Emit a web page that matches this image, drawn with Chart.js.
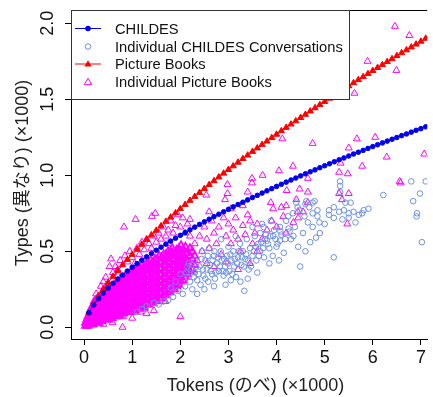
<!DOCTYPE html>
<html>
<head>
<meta charset="utf-8">
<title>Types vs Tokens</title>
<script src="https://cdn.jsdelivr.net/npm/chart.js@4.4.0/dist/chart.umd.min.js"></script>
<style>
  html, body { margin: 0; padding: 0; background: #fff; }
  #wrap { width: 433px; height: 397px; }
</style>
</head>
<body>
<div id="wrap"><canvas id="chart" width="433" height="397"></canvas></div>
<script>
// ==================
//  DATOS
// ==================
const xTicks = [0, 1, 2, 3, 4, 5, 6, 7];
const yTicks = [0, 0.5, 1, 1.5, 2];
const yTickLabels = ["0.0", "0.5", "1.0", "1.5", "2.0"];
const xTitle = "Tokens (のべ) (×1000)";
const yTitle = "Types (異なり) (×1000)";
const seriesNames = ["CHILDES", "Individual CHILDES Conversations", "Picture Books", "Individual Picture Books"];

// curvas acumuladas (x1000 tokens)
const curveTokens = [
  0.1, 0.2, 0.3, 0.4, 0.5, 0.6, 0.7, 0.8, 0.9, 1.0,
  1.1, 1.2, 1.3, 1.4, 1.5, 1.6, 1.7, 1.8, 1.9, 2.0,
  2.1, 2.2, 2.3, 2.4, 2.5, 2.6, 2.7, 2.8, 2.9, 3.0,
  3.1, 3.2, 3.3, 3.4, 3.5, 3.6, 3.7, 3.8, 3.9, 4.0,
  4.1, 4.2, 4.3, 4.4, 4.5, 4.6, 4.7, 4.8, 4.9, 5.0,
  5.1, 5.2, 5.3, 5.4, 5.5, 5.6, 5.7, 5.8, 5.9, 6.0,
  6.1, 6.2, 6.3, 6.4, 6.5, 6.6, 6.7, 6.8, 6.9, 7.0,
  7.1, 7.2
];
const childesTypes = [
  0.096, 0.147, 0.188, 0.225, 0.258, 0.289, 0.317, 0.344, 0.370, 0.395,
  0.419, 0.442, 0.464, 0.486, 0.507, 0.527, 0.547, 0.567, 0.586, 0.605,
  0.623, 0.641, 0.659, 0.677, 0.694, 0.711, 0.728, 0.744, 0.760, 0.776,
  0.792, 0.808, 0.823, 0.838, 0.854, 0.868, 0.883, 0.898, 0.912, 0.927,
  0.941, 0.955, 0.969, 0.982, 0.996, 1.010, 1.023, 1.036, 1.050, 1.063,
  1.076, 1.089, 1.102, 1.114, 1.127, 1.140, 1.152, 1.164, 1.177, 1.189,
  1.201, 1.213, 1.225, 1.237, 1.249, 1.261, 1.272, 1.284, 1.296, 1.307,
  1.319, 1.330
];
const booksTypes = [
  0.095, 0.155, 0.205, 0.252, 0.294, 0.334, 0.373, 0.410, 0.445, 0.479,
  0.512, 0.545, 0.576, 0.607, 0.637, 0.667, 0.696, 0.724, 0.752, 0.780,
  0.807, 0.834, 0.860, 0.886, 0.912, 0.938, 0.963, 0.988, 1.013, 1.037,
  1.061, 1.085, 1.109, 1.132, 1.156, 1.179, 1.202, 1.224, 1.247, 1.269,
  1.292, 1.314, 1.336, 1.357, 1.379, 1.400, 1.422, 1.443, 1.464, 1.485,
  1.506, 1.527, 1.547, 1.567, 1.588, 1.608, 1.628, 1.648, 1.668, 1.688,
  1.708, 1.727, 1.747, 1.766, 1.786, 1.805, 1.824, 1.843, 1.862, 1.881,
  1.900, 1.919
];

// conversaciones individuales [tokens, types]
const childesConversations = [
  [6.80,0.96],[7.10,0.96],[6.22,0.87],[6.98,0.88],[6.84,0.83],[6.91,0.73],[6.92,0.75],[7.02,0.56],
  [5.32,0.96],[5.32,0.93],[5.32,0.89],[5.19,0.46],[4.49,0.40],[4.82,0.59],[3.33,0.24],[2.94,0.28],[3.40,0.32],
  [4.62,0.83],[4.79,0.83],[4.68,0.79],[4.85,0.77],[4.75,0.75],[4.58,0.73],[4.85,0.73],[4.65,0.69],
  [4.89,0.69],[4.75,0.66],[4.48,0.77],[4.41,0.82],[4.34,0.75],[4.24,0.73],[4.27,0.63],[4.07,0.66],
  [4.07,0.57],[4.00,0.53],[3.93,0.60],[3.80,0.57],[3.73,0.66],[3.66,0.62],
  [5.09,0.77],[5.19,0.79],[5.30,0.76],[5.40,0.77],[5.50,0.75],[5.60,0.76],[5.71,0.74],[5.81,0.77],
  [5.91,0.78],[5.09,0.74],[5.19,0.72],[5.37,0.71],[5.50,0.72],[5.64,0.69],[5.78,0.75],[5.43,0.82],[5.54,0.82],
  [2.05,0.22],[2.10,0.27],[2.15,0.33],[2.20,0.30],[2.25,0.25],[2.30,0.36],[2.35,0.31],[2.40,0.40],
  [2.42,0.28],[2.48,0.34],[2.52,0.44],[2.55,0.38],[2.58,0.30],[2.62,0.41],[2.66,0.35],[2.70,0.47],
  [2.72,0.32],[2.76,0.42],[2.80,0.37],[2.84,0.50],[2.86,0.44],[2.90,0.34],[2.93,0.40],[2.97,0.47],
  [3.00,0.53],[3.02,0.37],[3.06,0.44],[3.10,0.50],[3.12,0.40],[3.16,0.33],[3.20,0.46],[3.24,0.55],
  [3.27,0.41],[3.30,0.50],[3.35,0.45],[3.38,0.58],[3.42,0.38],[3.45,0.52],[3.50,0.47],[3.55,0.60],
  [3.58,0.44],[3.62,0.55],[3.66,0.50],[3.70,0.68],[3.74,0.46],[3.78,0.61],[3.85,0.52],[3.88,0.70],
  [3.92,0.47],[3.95,0.64],[4.02,0.55],[4.10,0.61],[4.15,0.49],[4.20,0.70],[4.30,0.58],[4.38,0.66],
  [4.45,0.53],[4.55,0.62],[2.60,0.52],[2.45,0.50],[2.85,0.58],[3.15,0.60],[3.50,0.66],[2.30,0.44],
  [1.95,0.24],[1.85,0.20],[1.75,0.18],[1.65,0.17],[1.55,0.15],[1.45,0.16],[1.30,0.14],[1.20,0.12],
  [1.10,0.10],[1.90,0.30],[2.00,0.35],[2.15,0.40],[1.80,0.26],[3.60,0.36],[3.85,0.42],[4.05,0.44],
  [3.25,0.30],[3.05,0.31],[2.70,0.27],[2.50,0.25],[2.35,0.22],[4.60,0.50],[4.70,0.56],[4.90,0.62],
  [5.00,0.68],[4.44,0.79],[4.60,0.81],[4.75,0.82],
  [2.12,0.36],[2.18,0.42],[2.22,0.38],[2.28,0.33],[2.33,0.40],[2.38,0.35],[2.44,0.45],[2.47,0.38],
  [2.52,0.32],[2.57,0.47],[2.63,0.37],[2.67,0.44],[2.71,0.50],[2.74,0.36],[2.78,0.46],[2.82,0.40],
  [2.88,0.37],[2.91,0.45],[2.95,0.36],[2.99,0.42],[3.04,0.48],[3.08,0.35],[3.13,0.45],[3.18,0.42],
  [3.22,0.50],[3.28,0.46],[3.32,0.40],[3.37,0.48],[3.41,0.44],[3.47,0.40],[3.53,0.50],[3.57,0.53],
  [3.63,0.47],[3.68,0.56],[3.72,0.52],[3.76,0.58],[3.82,0.55],[3.87,0.60],[3.98,0.58],[4.08,0.63],
  [4.18,0.58],[4.25,0.65],[4.35,0.60]
];

// nube densa de libros: [tokens, [types...]]
const bookCore = [
  [0.03, [0.01, 0.03]],
  [0.055, [0.02, 0.05]],
  [0.08, [0.01, 0.04, 0.07]],
  [0.105, [0.03, 0.06, 0.08]],
  [0.13, [0.02, 0.05, 0.09, 0.11]],
  [0.16, [0.035, 0.07, 0.11, 0.13]],
  [0.19, [0.02, 0.05, 0.09, 0.13, 0.15]],
  [0.22, [0.04, 0.07, 0.11, 0.15, 0.17]],
  [0.25, [0.03, 0.07, 0.11, 0.14, 0.18]],
  [0.28, [0.05, 0.09, 0.13, 0.16, 0.19]],
  [0.31, [0.03, 0.07, 0.11, 0.15, 0.19]],
  [0.34, [0.05, 0.09, 0.13, 0.17, 0.21]],
  [0.37, [0.04, 0.08, 0.12, 0.16, 0.20, 0.22]],
  [0.405, [0.06, 0.10, 0.14, 0.18, 0.22, 0.23]],
  [0.44, [0.05, 0.09, 0.13, 0.17, 0.21, 0.24]],
  [0.475, [0.07, 0.11, 0.15, 0.19, 0.23, 0.25]],
  [0.51, [0.05, 0.09, 0.13, 0.17, 0.21, 0.25]],
  [0.545, [0.07, 0.11, 0.15, 0.19, 0.23, 0.26]],
  [0.58, [0.06, 0.10, 0.14, 0.18, 0.22, 0.26]],
  [0.62, [0.08, 0.12, 0.16, 0.20, 0.24, 0.28]],
  [0.66, [0.07, 0.11, 0.15, 0.19, 0.23, 0.27, 0.29]],
  [0.70, [0.09, 0.13, 0.17, 0.21, 0.25, 0.29, 0.30]],
  [0.74, [0.08, 0.12, 0.16, 0.20, 0.24, 0.28, 0.31]],
  [0.78, [0.10, 0.14, 0.18, 0.22, 0.26, 0.30, 0.32]],
  [0.82, [0.09, 0.13, 0.17, 0.21, 0.25, 0.29, 0.32]],
  [0.86, [0.11, 0.15, 0.19, 0.23, 0.27, 0.31, 0.34]],
  [0.90, [0.10, 0.14, 0.18, 0.22, 0.26, 0.30, 0.34]],
  [0.94, [0.12, 0.16, 0.20, 0.24, 0.28, 0.32, 0.35]],
  [0.98, [0.10, 0.14, 0.18, 0.22, 0.26, 0.30, 0.34, 0.36]],
  [1.025, [0.12, 0.16, 0.20, 0.24, 0.28, 0.32, 0.36, 0.38]],
  [1.07, [0.11, 0.15, 0.19, 0.23, 0.27, 0.31, 0.35, 0.37]],
  [1.115, [0.13, 0.17, 0.21, 0.25, 0.29, 0.33, 0.37, 0.39]],
  [1.16, [0.12, 0.16, 0.20, 0.24, 0.28, 0.32, 0.36, 0.39]],
  [1.205, [0.14, 0.18, 0.22, 0.26, 0.30, 0.34, 0.38, 0.41]],
  [1.25, [0.13, 0.17, 0.21, 0.25, 0.29, 0.33, 0.37, 0.40]],
  [1.295, [0.15, 0.19, 0.23, 0.27, 0.31, 0.35, 0.39, 0.42]],
  [1.34, [0.15, 0.19, 0.23, 0.27, 0.31, 0.35, 0.39, 0.42]],
  [1.385, [0.17, 0.21, 0.25, 0.29, 0.33, 0.37, 0.41, 0.44]],
  [1.43, [0.16, 0.20, 0.24, 0.28, 0.32, 0.36, 0.40, 0.43]],
  [1.475, [0.18, 0.22, 0.26, 0.30, 0.34, 0.38, 0.42, 0.45]],
  [1.52, [0.17, 0.21, 0.25, 0.29, 0.33, 0.37, 0.41, 0.45]],
  [1.565, [0.19, 0.23, 0.27, 0.31, 0.35, 0.39, 0.43, 0.47]],
  [1.61, [0.19, 0.23, 0.27, 0.31, 0.35, 0.39, 0.43, 0.46]],
  [1.655, [0.21, 0.25, 0.29, 0.33, 0.37, 0.41, 0.45, 0.48]],
  [1.70, [0.21, 0.25, 0.29, 0.33, 0.37, 0.41, 0.45, 0.48]],
  [1.745, [0.23, 0.27, 0.31, 0.35, 0.39, 0.43, 0.47, 0.50]],
  [1.79, [0.23, 0.27, 0.31, 0.35, 0.39, 0.43, 0.47, 0.50]],
  [1.835, [0.25, 0.29, 0.33, 0.37, 0.41, 0.45, 0.49, 0.52]],
  [1.88, [0.25, 0.29, 0.33, 0.37, 0.41, 0.45, 0.49]],
  [1.925, [0.27, 0.31, 0.35, 0.39, 0.43, 0.47, 0.51]],
  [1.97, [0.28, 0.32, 0.36, 0.40, 0.44, 0.48, 0.52]],
  [2.015, [0.30, 0.34, 0.38, 0.42, 0.46, 0.50, 0.54]],
  [2.06, [0.31, 0.35, 0.39, 0.43, 0.47, 0.51]],
  [2.105, [0.33, 0.37, 0.41, 0.45, 0.49, 0.53]],
  [2.15, [0.35, 0.40, 0.44, 0.49]],
  [2.20, [0.37, 0.42, 0.47, 0.52]],
  [2.25, [0.38, 0.45, 0.50]],
  [2.30, [0.41, 0.47]]
];

// libros sueltos [tokens, types]
const bookScatter = [
  [6.46,1.98],[6.76,1.92],[5.89,1.75],[6.49,1.69],[5.62,1.54],[4.12,1.24],[4.75,1.21],[5.67,1.24],
  [6.05,1.25],[5.50,1.18],[6.29,1.12],[7.07,1.14],[5.78,1.06],[5.33,1.08],[4.34,1.06],[4.05,1.03],
  [5.30,1.02],[5.48,1.01],[4.65,0.98],[3.71,1.00],[3.49,0.98],[2.98,0.94],[3.49,0.95],[3.40,0.89],
  [4.21,0.90],[4.48,0.91],[4.65,0.89],[6.56,0.96],[6.58,0.95],[5.30,0.88],[5.50,0.88],[5.36,0.84],
  [5.47,0.68],[2.98,0.88],[2.93,0.84],[2.54,0.87],[3.88,0.82],[3.93,0.78],[4.41,0.84],[4.44,0.76],[4.14,0.73],
  [2.30,0.55],[2.40,0.60],[2.45,0.50],[2.50,0.66],[2.55,0.58],[2.60,0.52],[2.65,0.70],[2.70,0.62],
  [2.75,0.55],[2.80,0.66],[2.85,0.48],[2.90,0.72],[2.95,0.60],[3.00,0.68],[3.05,0.55],[3.10,0.64],
  [3.15,0.72],[3.20,0.58],[3.25,0.50],[3.30,0.67],[3.35,0.61],[3.40,0.74],[3.45,0.70],[3.50,0.55],
  [3.55,0.62],[3.60,0.68],[3.70,0.58],[3.80,0.64],[3.90,0.70],[4.00,0.66],[4.10,0.79],[4.20,0.62],
  [4.35,0.69],[4.45,0.72],[4.55,0.76],[2.35,0.44],[2.55,0.42],[2.70,0.40],[2.95,0.43],[3.20,0.38],
  [3.45,0.42],[3.05,0.78],[3.30,0.80],[2.60,0.76],[2.20,0.71],[3.60,0.50],[4.20,0.80],[4.65,0.82],
  [0.59,0.03],[0.80,0.00],[1.17,0.10],[1.45,0.11],[1.69,0.17],[2.00,0.07],[0.81,0.07],[1.30,0.09],
  [1.00,0.06],[0.40,0.02],
  [0.15,0.12],[0.20,0.17],[0.25,0.22],[0.30,0.20],[0.35,0.27],[0.40,0.30],[0.45,0.33],[0.50,0.29],
  [0.56,0.45],[0.53,0.40],[0.60,0.36],[0.65,0.40],[0.70,0.38],[0.75,0.44],[0.83,0.66],[0.85,0.47],
  [0.90,0.43],[0.95,0.50],[1.00,0.46],[1.07,0.71],[1.10,0.52],[1.15,0.48],[1.20,0.56],[1.25,0.51],
  [1.30,0.58],[1.35,0.55],[1.41,0.73],[1.48,0.75],[1.45,0.60],[1.50,0.56],[1.55,0.62],[1.60,0.58],
  [1.65,0.66],[1.70,0.60],[1.75,0.64],[1.80,0.70],[1.85,0.62],[1.90,0.67],[1.95,0.74],[2.00,0.66],
  [2.05,0.72],[2.10,0.62],[2.15,0.68],[1.05,0.42],[1.40,0.52],[1.75,0.55],[2.20,0.60],[0.70,0.34],
  [0.45,0.26],[0.25,0.16]
];

// ==================
//  ESTILO
// ==================
const FONT = '"Liberation Sans", Arial, "Noto Sans CJK JP", sans-serif';
const C_BLUE = "#0000ee";
const C_CONV = "#6b8fe6";
const C_RED = "#ff0000";
const C_MAG = "#ff00ff";

function toXY(pairs) {
  return pairs.map(([x, y]) => ({ x, y }));
}

const childesLine = curveTokens.map((t, i) => ({ x: t, y: childesTypes[i] }));
const booksLine = curveTokens.map((t, i) => ({ x: t, y: booksTypes[i] }));
const corePoints = bookCore.flatMap(([x, ys]) => ys.map((y) => ({ x, y })));
const bookPoints = corePoints.concat(toXY(bookScatter));
// la nube densa se traza con un trazo algo más grueso (solapamiento de miles de libros)
const bookBorderWidths = bookPoints.map((p, i) => (i < corePoints.length ? 1.8 : 1));

function triangle(ctx, cx, cy, r) {
  ctx.beginPath();
  ctx.moveTo(cx, cy - r);
  ctx.lineTo(cx + 0.866 * r, cy + 0.5 * r);
  ctx.lineTo(cx - 0.866 * r, cy + 0.5 * r);
  ctx.closePath();
}

// ejes al estilo R, títulos y leyenda
const rStyle = {
  id: "rStyle",
  afterDraw(chart) {
    const { ctx, chartArea: a, scales: { x, y } } = chart;
    ctx.save();

    // borde superior de la caja
    ctx.strokeStyle = "#000";
    ctx.lineWidth = 1;
    ctx.beginPath();
    ctx.moveTo(a.left, Math.round(a.top) + 0.5);
    ctx.lineTo(a.right, Math.round(a.top) + 0.5);
    ctx.stroke();

    // etiquetas de los ticks
    ctx.fillStyle = "#111";
    ctx.font = `18px ${FONT}`;
    ctx.textAlign = "center";
    ctx.textBaseline = "alphabetic";
    xTicks.forEach((v) => ctx.fillText(String(v), x.getPixelForValue(v), 363));
    yTicks.forEach((v, i) => {
      ctx.save();
      ctx.translate(53, y.getPixelForValue(v));
      ctx.rotate(-Math.PI / 2);
      ctx.fillText(yTickLabels[i], 0, 0);
      ctx.restore();
    });

    // títulos
    ctx.fillStyle = "#222";
    ctx.font = `18px ${FONT}`;
    ctx.fillText(xTitle, 255.5, 391);
    ctx.save();
    ctx.translate(28, 173);
    ctx.rotate(-Math.PI / 2);
    ctx.fillText(yTitle, 0, 0);
    ctx.restore();

    // leyenda
    const L = { left: 71, top: 10, right: 349, bottom: 99 };
    ctx.fillStyle = "#fff";
    ctx.fillRect(L.left, L.top, L.right - L.left, L.bottom - L.top);
    ctx.strokeStyle = "#333";
    ctx.strokeRect(L.left + 0.5, L.top + 0.5, L.right - L.left, L.bottom - L.top);

    const rows = [28.5, 46.5, 64, 81.5];
    const sx = 88;
    // CHILDES
    ctx.strokeStyle = C_BLUE;
    ctx.beginPath(); ctx.moveTo(75, rows[0]); ctx.lineTo(101, rows[0]); ctx.stroke();
    ctx.fillStyle = C_BLUE;
    ctx.beginPath(); ctx.arc(sx, rows[0], 2.8, 0, Math.PI * 2); ctx.fill();
    // conversaciones
    ctx.strokeStyle = C_CONV;
    ctx.beginPath(); ctx.arc(sx, rows[1], 2.8, 0, Math.PI * 2); ctx.stroke();
    // libros
    ctx.strokeStyle = C_RED;
    ctx.beginPath(); ctx.moveTo(75, rows[2]); ctx.lineTo(101, rows[2]); ctx.stroke();
    ctx.fillStyle = C_RED;
    triangle(ctx, sx, rows[2] + 0.5, 4.2); ctx.fill();
    // libros sueltos
    ctx.strokeStyle = C_MAG;
    triangle(ctx, sx, rows[3] + 1, 4.3); ctx.stroke();

    ctx.fillStyle = "#111";
    ctx.font = `14.7px ${FONT}`;
    ctx.textAlign = "left";
    seriesNames.forEach((n, i) => ctx.fillText(n, 115, rows[i] + 5));

    ctx.restore();
  }
};

// ==================
//  GRÁFICO
// ==================
new Chart(document.getElementById("chart").getContext("2d"), {
  type: "scatter",
  data: {
    datasets: [
      {
        label: seriesNames[0],
        data: childesLine,
        showLine: true,
        borderColor: C_BLUE,
        backgroundColor: C_BLUE,
        borderWidth: 1,
        pointStyle: "circle",
        pointRadius: 2.3,
        pointBorderWidth: 1,
        order: 0
      },
      {
        label: seriesNames[1],
        data: toXY(childesConversations),
        borderColor: C_CONV,
        backgroundColor: "rgba(0,0,0,0)",
        pointStyle: "circle",
        pointRadius: 2.8,
        pointBorderWidth: 1,
        order: 2
      },
      {
        label: seriesNames[2],
        data: booksLine,
        showLine: true,
        borderColor: C_RED,
        backgroundColor: C_RED,
        borderWidth: 1,
        pointStyle: "triangle",
        pointRadius: 3.6,
        pointBorderWidth: 1,
        order: 1
      },
      {
        label: seriesNames[3],
        data: bookPoints,
        borderColor: C_MAG,
        backgroundColor: "rgba(0,0,0,0)",
        pointStyle: "triangle",
        pointRadius: 4,
        pointBorderWidth: bookBorderWidths,
        order: 3
      }
    ]
  },
  options: {
    responsive: false,
    devicePixelRatio: 1,
    animation: false,
    events: [],
    layout: { padding: { top: 10, left: 0, right: 0, bottom: 0 } },
    plugins: {
      legend: { display: false },
      tooltip: { enabled: false }
    },
    scales: {
      x: {
        type: "linear",
        min: -0.272,
        max: 7.131,
        afterBuildTicks: (s) => { s.ticks = xTicks.map((v) => ({ value: v })); },
        afterFit: (s) => { s.height = 58; },
        ticks: { display: false },
        grid: { display: true, drawOnChartArea: false, drawTicks: true, tickLength: 6, color: "#000" },
        border: { display: true, color: "#000", width: 1 }
      },
      y: {
        type: "linear",
        min: -0.077,
        max: 2.0875,
        afterBuildTicks: (s) => { s.ticks = yTicks.map((v) => ({ value: v })); },
        afterFit: (s) => { s.width = 71; },
        ticks: { display: false },
        grid: { display: true, drawOnChartArea: false, drawTicks: true, tickLength: 6, color: "#000" },
        border: { display: true, color: "#000", width: 1 }
      }
    }
  },
  plugins: [rStyle]
});
</script>
</body>
</html>
